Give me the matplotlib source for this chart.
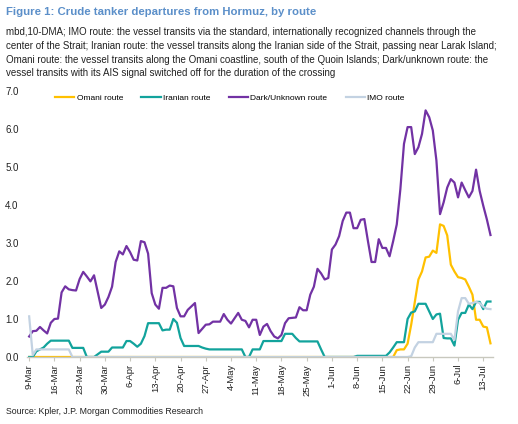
import numpy as np
import pandas as pd
import matplotlib
matplotlib.use("Agg")
import matplotlib.pyplot as plt
from matplotlib import font_manager

# mbd, 10-DMA, daily from 9-Mar to 15-Jul
dates = pd.date_range("2025-03-09", "2025-07-15", freq="D")

omani = [
    0, 0, 0, 0, 0, 0, 0, 0, 0, 0,
    0, 0, 0, 0, 0, 0, 0, 0, 0, 0,
    0, 0, 0, 0, 0, 0, 0, 0, 0, 0,
    0, 0, 0, 0, 0, 0, 0, 0, 0, 0,
    0, 0, 0, 0, 0, 0, 0, 0, 0, 0,
    0, 0, 0, 0, 0, 0, 0, 0, 0, 0,
    0, 0, 0, 0, 0, 0, 0, 0, 0, 0,
    0, 0, 0, 0, 0, 0, 0, 0, 0, 0,
    0, 0, 0, 0, 0, 0, 0, 0, 0, 0,
    0, 0, 0, 0, 0, 0, 0, 0, 0, 0,
    0, 0, 0.18, 0.20, 0.20, 0.35, 0.85, 1.45, 2.04, 2.25,
    2.62, 2.64, 2.80, 2.74, 3.49, 3.45, 3.20, 2.43, 2.25, 2.10,
    2.08, 2.04, 1.85, 1.64, 0.98, 0.98, 0.80, 0.78, 0.36,
]

iranian = [
    0, 0, 0.15, 0.20, 0.25, 0.35, 0.43, 0.43, 0.43, 0.43,
    0.43, 0.43, 0.24, 0.24, 0.24, 0.24, 0, 0, 0, 0.07,
    0.14, 0.14, 0.14, 0.25, 0.25, 0.25, 0.25, 0.42, 0.42, 0.35,
    0.27, 0.35, 0.55, 0.89, 0.89, 0.89, 0.89, 0.70, 0.72, 0.72,
    1.00, 0.90, 0.50, 0.29, 0.29, 0.29, 0.29, 0.29, 0.25, 0.22,
    0.20, 0.20, 0.20, 0.20, 0.20, 0.20, 0.20, 0.20, 0.20, 0.20,
    0, 0, 0.20, 0.20, 0.20, 0.42, 0.42, 0.42, 0.42, 0.42,
    0.42, 0.61, 0.61, 0.61, 0.50, 0.41, 0.41, 0.41, 0.41, 0.41,
    0.41, 0.20, 0, 0, 0, 0, 0, 0, 0, 0,
    0, 0.03, 0.03, 0.03, 0.03, 0.03, 0.03, 0.03, 0.03, 0.03,
    0.12, 0.25, 0.39, 0.39, 0.39, 1.00, 1.17, 1.20, 1.40, 1.40,
    1.40, 1.20, 1.00, 1.12, 1.14, 0.50, 0.49, 0.49, 0.30, 0.98,
    1.16, 1.16, 1.38, 1.26, 1.45, 1.45, 1.26, 1.46, 1.46,
]

dark = [
    0.54, 0.68, 0.69, 0.79, 0.70, 0.62, 0.90, 1.00, 1.01, 1.70,
    1.86, 1.78, 1.76, 1.75, 2.05, 2.24, 2.12, 1.99, 2.15, 1.72,
    1.29, 1.38, 1.58, 1.85, 2.50, 2.78, 2.70, 2.92, 2.76, 2.56,
    2.54, 3.05, 3.02, 2.72, 1.68, 1.38, 1.27, 1.82, 1.82, 1.88,
    1.86, 1.29, 1.07, 1.07, 1.24, 1.33, 1.42, 0.63, 0.74, 0.85,
    0.86, 0.93, 0.93, 0.93, 1.13, 0.98, 0.88, 1.02, 1.16, 0.98,
    0.95, 0.78, 0.98, 0.98, 0.58, 0.80, 0.87, 0.68, 0.54, 0.49,
    0.58, 0.89, 1.02, 1.03, 1.04, 1.31, 1.23, 1.23, 1.64, 1.85,
    2.32, 2.20, 2.04, 2.08, 2.83, 2.96, 3.18, 3.58, 3.80, 3.80,
    3.39, 3.39, 3.61, 3.63, 3.05, 2.50, 2.50, 3.10, 2.87, 2.87,
    2.65, 3.05, 3.49, 4.42, 5.61, 6.05, 6.05, 5.34, 5.52, 5.87,
    6.49, 6.31, 5.96, 5.17, 3.76, 4.07, 4.46, 4.68, 4.59, 4.20,
    4.59, 4.39, 4.20, 4.37, 4.93, 4.37, 3.98, 3.62, 3.21,
]

imo = [
    1.07, 0.05, 0.20, 0.20, 0.20, 0.20, 0.20, 0.20, 0.20, 0.20,
    0.20, 0.20, 0, 0, 0, 0, 0, 0, 0, 0,
    0, 0, 0, 0, 0, 0, 0, 0, 0, 0,
    0, 0, 0, 0, 0, 0, 0, 0, 0, 0,
    0, 0, 0, 0, 0, 0, 0, 0, 0, 0,
    0, 0, 0, 0, 0, 0, 0, 0, 0, 0,
    0, 0, 0, 0, 0, 0, 0, 0, 0, 0,
    0, 0, 0, 0, 0, 0, 0, 0, 0, 0,
    0, 0, 0, 0, 0, 0, 0, 0, 0, 0,
    0, 0, 0, 0, 0, 0, 0, 0, 0, 0,
    0, 0, 0, 0, 0, 0, 0.02, 0.25, 0.39, 0.39,
    0.39, 0.39, 0.39, 0.61, 0.61, 0.61, 0.61, 0.61, 0.45, 1.20,
    1.55, 1.55, 1.40, 1.42, 1.45, 1.42, 1.32, 1.27, 1.26,
]

series = [
    ("Omani route", omani, "#FFC000"),
    ("Iranian route", iranian, "#12A39C"),
    ("Dark/Unknown route", dark, "#7232A4"),
    ("IMO route", imo, "#C3D2E2"),
]

title = "Figure 1: Crude tanker departures from Hormuz, by route"
subtitle = [
    "mbd,10-DMA; IMO route: the vessel transits via the standard, internationally recognized channels through the",
    "center of the Strait; Iranian route: the vessel transits along the Iranian side of the Strait, passing near Larak Island;",
    "Omani route: the vessel transits along the Omani coastline, south of the Quoin Islands; Dark/unknown route: the",
    "vessel transits with its AIS signal switched off for the duration of the crossing",
]
source = "Source: Kpler, J.P. Morgan Commodities Research"

names = {f.name for f in font_manager.fontManager.ttflist}
base = "Liberation Sans Narrow" if "Liberation Sans Narrow" in names else "Liberation Sans"
plt.rcParams["font.family"] = [base, "DejaVu Sans"]

W, H = 518, 424
fig = plt.figure(figsize=(W / 100, H / 100), dpi=100)
ax = fig.add_axes([27 / W, (H - 357) / H, (493 - 27) / W, (357 - 91) / H])

txt = "#222222"
fig.text(6 / W, 1 - 12 / H, title, fontsize=8.2, fontweight="bold", color="#5B8FC9", va="center")
for i, line in enumerate(subtitle):
    fig.text(6 / W, 1 - (32 + 13.8 * i) / H, line, fontsize=7.0, color=txt, va="center")
fig.text(6 / W, 1 - 412 / H, source, fontsize=6.35, color=txt, va="center")

for name, vals, col in series:
    ax.plot(dates, vals, color=col, lw=1.6, label=name, solid_joinstyle="round")

ax.set_ylim(0, 7)
ax.set_yticks(np.arange(0, 8, 1))
ax.set_yticklabels([f"{v:.1f}" for v in np.arange(0, 8, 1)])
ax.set_xlim(dates[0] - pd.Timedelta(days=0.6), dates[-1] + pd.Timedelta(days=0.7))
ticks = dates[::7]
ax.set_xticks(ticks)
ax.set_xticklabels([f"{d.day}-{d.strftime('%b')}" for d in ticks], rotation=90)

for s in ["top", "right", "left"]:
    ax.spines[s].set_visible(False)
ax.spines["bottom"].set_color("#C8C8BE")
ax.spines["bottom"].set_linewidth(1.0)
ax.tick_params(axis="y", length=0, pad=6, labelsize=7, colors=txt)
ax.tick_params(axis="x", length=3, width=0.8, color="#C8C8BE", labelsize=6.8, labelcolor=txt, pad=2)

ax.legend(loc="center left", bbox_to_anchor=(55 / W, 1 - 98 / H), bbox_transform=fig.transFigure,
          ncol=4, frameon=False, fontsize=6.0, handlelength=2.3, handletextpad=0.3,
          columnspacing=2.2, borderpad=0, borderaxespad=0)

fig.savefig("out.png", dpi=100)
